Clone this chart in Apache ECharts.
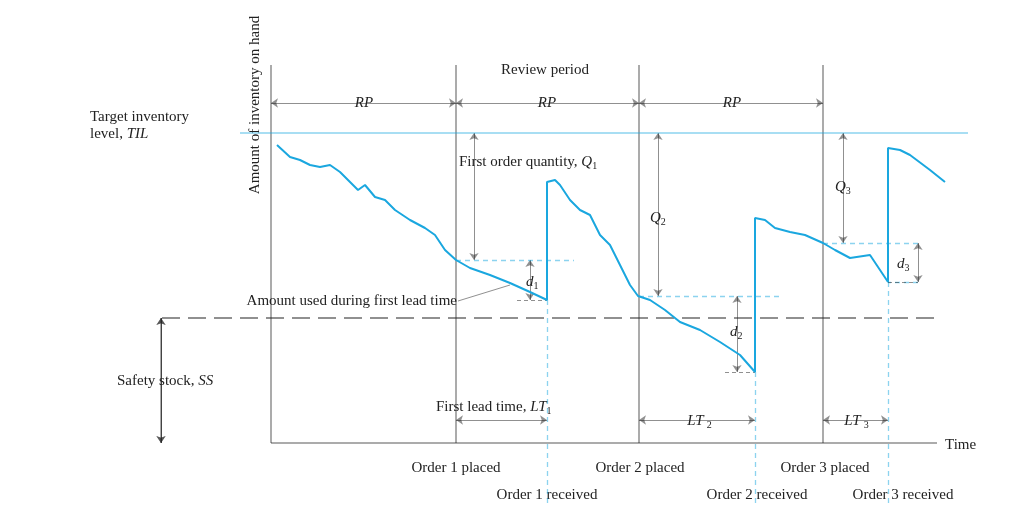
<!DOCTYPE html>
<html><head><meta charset="utf-8">
<script src="https://cdn.jsdelivr.net/npm/echarts@6/dist/echarts.min.js"></script>
<style>html,body{margin:0;background:#fff}#chart{width:1024px;height:513px}</style>
</head><body><div id="chart"></div>
<script>
// inventory curve: time (x) and level (y)
var invTime = [6,19,29,39,49,59,69,79,87,94,104,114,124,139,154,164,174,185,199,219,239,259,276,
  276,284,289,299,309,319,329,339,344,349,354,359,367,379,394,409,429,449,469,484,
  484,494,504,519,534,552,564,579,599,617,
  617,629,639,659,674];
var invLevel = [298,286,283,278,276,278,271,261,253,258,246,243,233,223,215,208,193,183,175,168,160,151,143,
  261,263,258,243,233,228,208,198,188,178,168,158,147,143,133,121,113,101,88,71,
  225,223,215,211,208,200,193,185,188,161,
  295,293,288,273,261];
var targetLevel = 310, safetyStock = 125, axisTop = 378;
var reviewTimes = [0, 185, 368, 552];
var orderLevels = [183, 147, 200];      // level when order placed
var receiveTimes = [276, 484, 617];
var receiveLevels = [143, 71, 161];     // level just before receipt
var dEnd = [303, 508, 647];             // right end of d dashes
var qArrowX = [203, 387, 572];
var dArrowX = [259, 466, 647];
var BLUE = '#1aa7df', INK = '#222';

var seg = function (a, b) { return { coords: [a, b] }; };
var solid = [], arrows = [], dashedBlue = [], dashedBlack = [];
reviewTimes.forEach(function (t) { solid.push(seg([t, 0], [t, axisTop])); });
solid.push(seg([0, 0], [666, 0]));
solid.push(seg([-110, safetyStock], [-110, 0]));
for (var i = 0; i < 3; i++) {
  arrows.push(seg([reviewTimes[i], 340], [reviewTimes[i + 1], 340]));
  arrows.push(seg([qArrowX[i], targetLevel], [qArrowX[i], orderLevels[i]]));
  arrows.push(seg([dArrowX[i], orderLevels[i]], [dArrowX[i], receiveLevels[i]]));
  arrows.push(seg([reviewTimes[i + 1], 23], [receiveTimes[i], 23]));
  dashedBlue.push(seg([reviewTimes[i + 1], orderLevels[i]], [dEnd[i], orderLevels[i]]));
  dashedBlue.push(seg([receiveTimes[i], receiveLevels[i]], [receiveTimes[i], -62]));
  dashedBlack.push(seg([receiveTimes[i] - 30, receiveLevels[i]], [receiveTimes[i], receiveLevels[i]]));
}
dashedBlue.push(seg([647, receiveLevels[2]], [617, receiveLevels[2]]));
dashedBlack.pop(); dashedBlack.push(seg([617, 161], [647, 161]));
arrows.push(seg([-110, safetyStock], [-110, 0]));

var chart = echarts.init(document.getElementById('chart'));
var F = 'Liberation Serif';
function txt(x, y, text, align, extra) {
  return Object.assign({ type: 'text', x: x, y: y, style: { text: text, font: '15px "Liberation Serif"', fill: INK,
    align: align || 'left', verticalAlign: 'middle', rich: {
      i: { fontStyle: 'italic', fontSize: 15, fontFamily: F, fill: INK },
      s: { fontSize: 10, fontFamily: F, fill: INK, verticalAlign: 'bottom', padding: [8, 0, 0, 0] },
      w: { backgroundColor: '#fff', fontStyle: 'italic', fontSize: 15, fontFamily: F, padding: [0, 3] }
    } } }, extra || {});
}
chart.setOption({
  animation: false,
  grid: { left: 0, right: 0, top: 0, bottom: 0 },
  xAxis: { type: 'value', min: -271, max: 753, show: false },
  yAxis: { type: 'value', min: -70, max: 443, show: false },
  series: [
    { type: 'lines', coordinateSystem: 'cartesian2d', data: solid, lineStyle: { color: INK, width: 1.5 }, z: 2 },
    { type: 'lines', coordinateSystem: 'cartesian2d', data: arrows, symbol: ['arrow', 'arrow'], symbolSize: 7,
      lineStyle: { color: INK, width: 1 }, z: 2 },
    { type: 'lines', coordinateSystem: 'cartesian2d', data: [seg([-110, 0], [-110, safetyStock])],
      symbol: ['arrow', 'arrow'], symbolSize: 7, lineStyle: { color: INK, width: 1 } },
    { type: 'lines', coordinateSystem: 'cartesian2d', data: dashedBlue, lineStyle: { color: BLUE, width: 1.3, type: [5, 4] } },
    { type: 'lines', coordinateSystem: 'cartesian2d', data: dashedBlack, lineStyle: { color: INK, width: 1, type: [4, 3] } },
    { type: 'lines', coordinateSystem: 'cartesian2d', data: [seg([-109, safetyStock], [666, safetyStock])],
      lineStyle: { color: INK, width: 2, type: [18, 8] } },
    { type: 'lines', coordinateSystem: 'cartesian2d', data: [seg([-31, targetLevel], [697, targetLevel])],
      lineStyle: { color: BLUE, width: 1.5 } },
    { type: 'lines', coordinateSystem: 'cartesian2d', data: [seg([187, 142], [239, 158])],
      lineStyle: { color: INK, width: 1 } },
    { type: 'line', data: invTime.map(function (t, k) { return [t, invLevel[k]]; }), showSymbol: false,
      lineStyle: { color: BLUE, width: 2 }, z: 3 }
  ],
  graphic: [
    txt(90, 117, 'Target inventory'),
    txt(90, 134, 'level, {i|TIL}'),
    txt(255, 105, 'Amount of inventory on hand', 'center', { rotation: Math.PI / 2 }),
    txt(545, 70, 'Review period', 'center'),
    txt(364, 103, '{w|RP}', 'center'), txt(547, 103, '{w|RP}', 'center'), txt(732, 103, '{w|RP}', 'center'),
    txt(459, 162, 'First order quantity, {i|Q}{s|1}'),
    txt(650, 218, '{i|Q}{s|2}'), txt(835, 187, '{i|Q}{s|3}'),
    txt(526, 282, '{i|d}{s|1}'), txt(730, 332, '{i|d}{s|2}'), txt(897, 264, '{i|d}{s|3}'),
    txt(457, 301, 'Amount used during first lead time', 'right', { z: 10 }),
    txt(117, 381, 'Safety stock, {i|SS}'),
    txt(436, 407, 'First lead time, {i|LT}{s|1}'),
    txt(698, 421, '{w|LT}{s|2}', 'center'), txt(855, 421, '{w|LT}{s|3}', 'center'),
    txt(945, 445, 'Time'),
    txt(456, 468, 'Order 1 placed', 'center'), txt(640, 468, 'Order 2 placed', 'center'),
    txt(825, 468, 'Order 3 placed', 'center'),
    txt(547, 495, 'Order 1 received', 'center'), txt(757, 495, 'Order 2 received', 'center'),
    txt(903, 495, 'Order 3 received', 'center')
  ]
});
</script></body></html>
